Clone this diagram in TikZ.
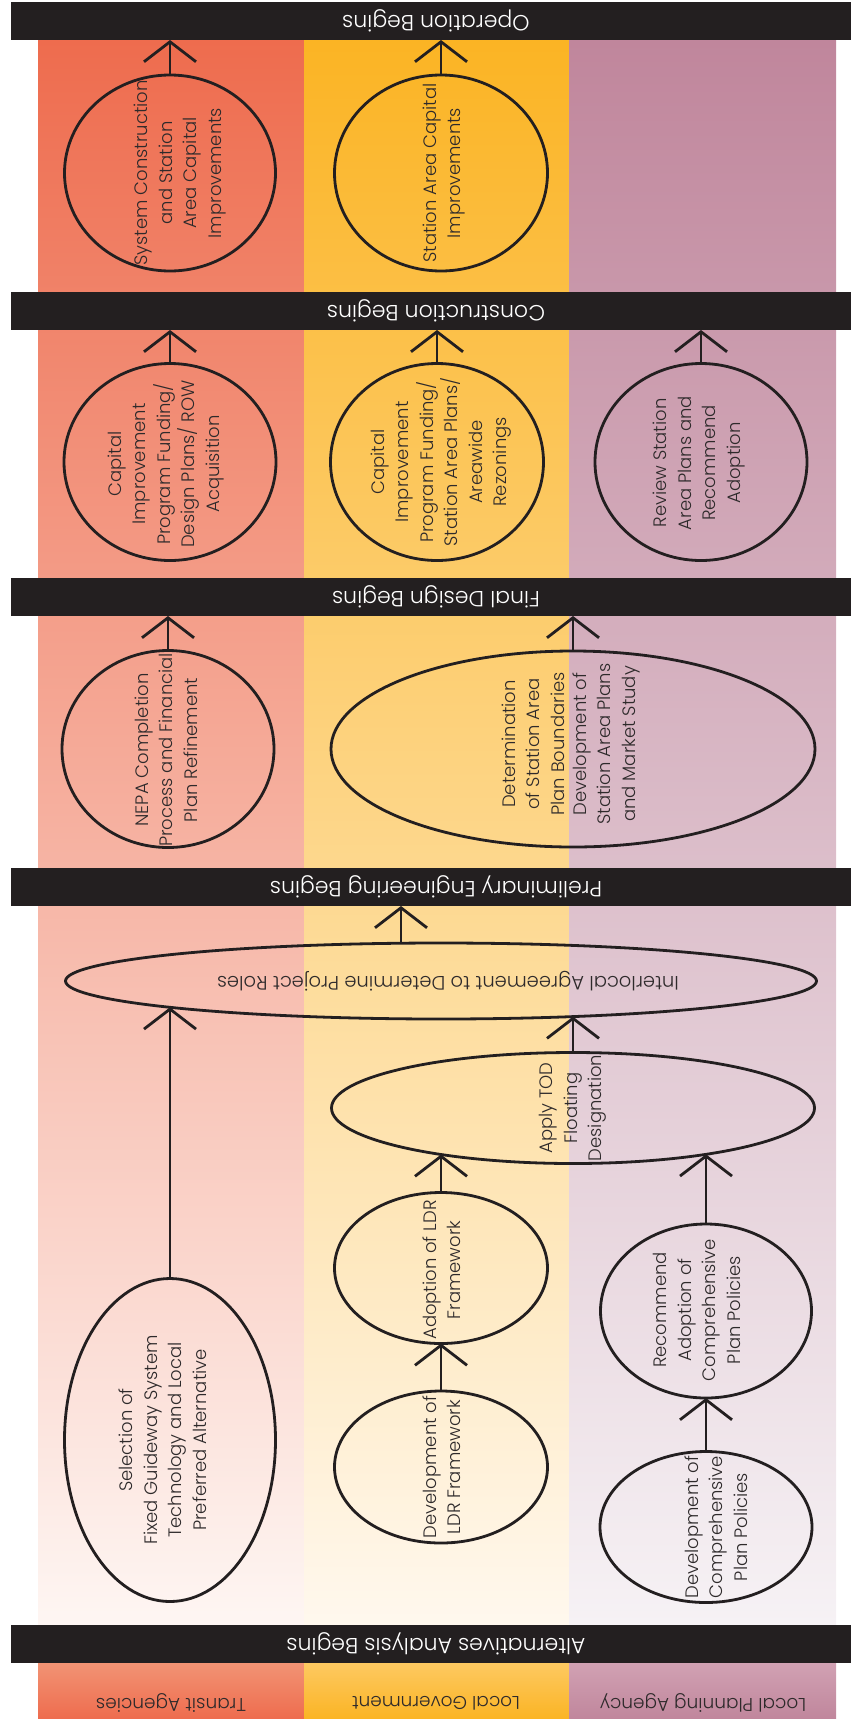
\documentclass[tikz,border=0pt]{standalone}
\usepackage{fontspec}
\setmainfont{Poppins Light}
\usetikzlibrary{arrows.meta,shapes.geometric}
\definecolor{barblack}{HTML}{231F20}
\definecolor{txtgray}{HTML}{2E2A2B}
\definecolor{trTop}{HTML}{EE6C4E}
\definecolor{trBot}{HTML}{FEF6F3}
\definecolor{lgTop}{HTML}{FBB424}
\definecolor{lgBot}{HTML}{FFF8EE}
\definecolor{lpTop}{HTML}{C0869C}
\definecolor{lpBot}{HTML}{F6F2F5}
\definecolor{trLab}{HTML}{F29374}
\definecolor{lgLab}{HTML}{FDC961}
\definecolor{lpLab}{HTML}{D1A1B3}
\tikzset{
  oval/.style={draw=barblack, line width=2.8pt, ellipse, inner sep=0pt, outer sep=0pt},
  otext/.style={rotate=90, align=center, text=txtgray, inner sep=0pt,
    font=\fontsize{18}{24.5}\selectfont},
  flipText/.style={rotate=180, align=center, text=txtgray, inner sep=0pt,
    font=\fontsize{19.5}{24.5}\selectfont},
  bar/.style={fill=barblack, draw=none, rectangle, minimum width=840pt, minimum height=38pt, inner sep=0pt, outer sep=0pt},
  bartext/.style={rotate=180, text=white, inner sep=0pt, font=\fontsize{22}{26}\selectfont},
  labtext/.style={rotate=180, text=txtgray, inner sep=0pt, font=\fontsize{18.5}{22}\selectfont},
  flow/.style={draw=barblack, line width=2.8pt, -{Straight Barb[length=20pt,width=52pt]}}
}
\begin{document}
\begin{tikzpicture}[x=1pt,y=-1pt]
\useasboundingbox (0,0) rectangle (851,1719);
% column backgrounds
\shade[top color=trTop, bottom color=trBot] (38,40) rectangle (304,1625);
\shade[top color=lgTop, bottom color=lgBot] (304,40) rectangle (569,1625);
\shade[top color=lpTop, bottom color=lpBot] (569,40) rectangle (836,1625);
\shade[top color=trLab, bottom color=trTop] (38,1663) rectangle (304,1719);
\shade[top color=lgLab, bottom color=lgTop] (304,1663) rectangle (569,1719);
\shade[top color=lpLab, bottom color=lpTop] (569,1663) rectangle (836,1719);
% milestone bars
\node[bar] (op)  at (431,21) {};
\node[bar] (con) at (431,311) {};
\node[bar] (fin) at (431,597) {};
\node[bar] (pre) at (431,887) {};
\node[bar] (alt) at (431,1644) {};
\node[bartext] (opt)  at (436,21) {Operation Begins};
\node[bartext] (cont) at (436,311) {Construction Begins};
\node[bartext] (fint) at (436,597) {Final Design Begins};
\node[bartext] (pret) at (436,887) {Preliminary Engineering Begins};
\node[bartext] (altt) at (436,1644) {Alternatives Analysis Begins};
% column labels
\node[labtext] (lab1) at (171,1703) {Transit Agencies};
\node[labtext] (lab2) at (436,1703) {Local Government};
\node[labtext] (lab3) at (703,1703) {Local Planning Agency};
% ovals
\node[oval, minimum width=211pt, minimum height=196pt] (e1) at (170,173) {};
\node[oval, minimum width=213pt, minimum height=196pt] (e2) at (441,173) {};
\node[oval, minimum width=212pt, minimum height=197pt] (e3) at (170,462) {};
\node[oval, minimum width=213pt, minimum height=197pt] (e4) at (437,462) {};
\node[oval, minimum width=212pt, minimum height=197pt] (e5) at (701,462) {};
\node[oval, minimum width=212pt, minimum height=197pt] (e6) at (168,749) {};
\node[oval, minimum width=484pt, minimum height=196pt] (e7) at (573,749) {};
\node[oval, minimum width=751pt, minimum height=76pt] (e8) at (441,981) {};
\node[oval, minimum width=483pt, minimum height=111pt] (e9) at (573,1108) {};
\node[oval, minimum width=211pt, minimum height=323pt] (e10) at (170,1440) {};
\node[oval, minimum width=213pt, minimum height=152pt] (e11) at (441,1467) {};
\node[oval, minimum width=213pt, minimum height=151pt] (e12) at (441,1268) {};
\node[oval, minimum width=211pt, minimum height=174pt] (e13) at (706,1311) {};
\node[oval, minimum width=212pt, minimum height=151pt] (e14) at (706,1527) {};
% oval texts
\node[otext] (t1) at (180,173) {System Construction\\and Station\\Area Capital\\Improvements};
\node[otext] (t2) at (444,173) {Station Area Capital\\Improvements};
\node[otext] (t3) at (166,464) {Capital\\Improvement\\Program Funding/\\Design Plans/ ROW\\Acquisition};
\node[otext] (t4) at (441,462) {Capital\\Improvement\\Program Funding/\\Station Area Plans/\\Areawide\\Rezonings};
\node[otext] (t5) at (699,463) {Review Station\\Area Plans and\\Recommend\\Adoption};
\node[otext] (t6) at (166,750) {NEPA Completion\\Process and Financial\\Plan Refinement};
\node[otext] (t7a) at (533,744) {Determination\\of Station Area\\Plan Boundaries};
\node[otext] (t7b) at (606,744) {Development of\\Station Area Plans\\and Market Study};
\node[flipText] (t8) at (448,981) {Interlocal Agreement to Determine Project Roles};
\node[otext] (t9) at (573,1108) {Apply TOD\\Floating\\Designation};
\node[otext] (t10) at (163,1440) {Selection of\\Fixed Guideway System\\Technology and Local\\Preferred Alternative};
\node[otext] (t11) at (442,1467) {Development of\\LDR Framework};
\node[otext] (t12) at (442,1270) {Adoption of LDR\\Framework};
\node[otext] (t13) at (697,1310) {Recommend\\Adoption of\\Comprehensive\\Plan Policies};
\node[otext] (t14) at (716,1527) {Development of\\Comprehensive\\Plan Policies};
% arrow end points on oval borders
\coordinate (e8a) at ([xshift=-40pt]e8.north);
\coordinate (p98) at (573,1016.6);
\coordinate (p108) at (170,1007.3);
\coordinate (p129) at (441,1154.5);
\coordinate (p139) at (706,1154.3);
% connectors
\draw[flow] (e1.north) -- (e1.north |- op.south);
\draw[flow] (e2.north) -- (e2.north |- op.south);
\draw[flow] (e3.north) -- (e3.north |- con.south);
\draw[flow] (e4.north) -- (e4.north |- con.south);
\draw[flow] (e5.north) -- (e5.north |- con.south);
\draw[flow] (e6.north) -- (e6.north |- fin.south);
\draw[flow] (e7.north) -- (e7.north |- fin.south);
\draw[flow] (e8a) -- (e8a |- pre.south);
\draw[flow] (e9.north) -- (p98);
\draw[flow] (e10.north) -- (p108);
\draw[flow] (e11.north) -- (e12.south);
\draw[flow] (e12.north) -- (p129);
\draw[flow] (e13.north) -- (p139);
\draw[flow] (e14.north) -- (e13.south);
\end{tikzpicture}
\end{document}
